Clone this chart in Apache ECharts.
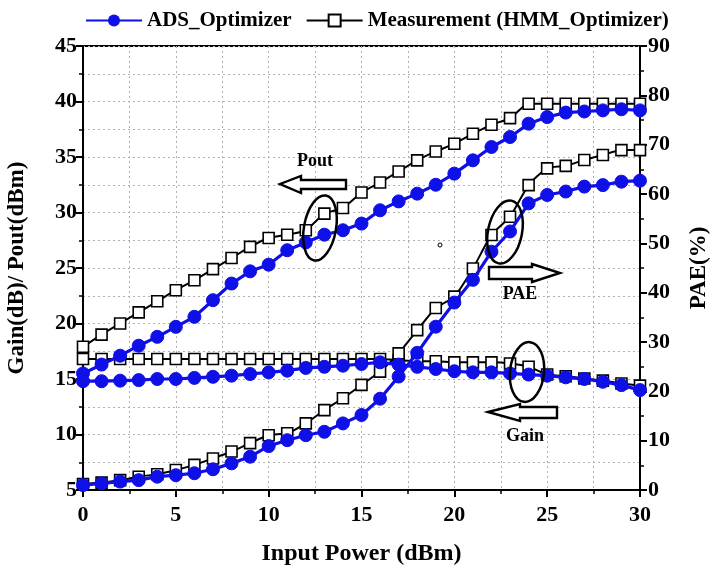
<!DOCTYPE html>
<html>
<head>
<meta charset="utf-8">
<script src="https://cdn.jsdelivr.net/npm/echarts@6/dist/echarts.min.js"></script>
<style>html,body{margin:0;padding:0;background:#fff;}#c{width:712px;height:573px;}</style>
</head>
<body>
<div id="c"></div>
<script>
const inputPower = [0,1,2,3,4,5,6,7,8,9,10,11,12,13,14,15,16,17,18,19,20,21,22,23,24,25,26,27,28,29,30];
const poutADS  = [15.5,16.3,17.1,18.0,18.8,19.7,20.6,22.1,23.6,24.7,25.3,26.6,27.3,28.0,28.4,29.0,30.2,31.0,31.7,32.5,33.5,34.7,35.9,36.8,38.0,38.6,39.0,39.1,39.2,39.3,39.2];
const poutMeas = [17.9,19.0,20.0,21.0,22.0,23.0,23.9,24.9,25.9,26.9,27.7,28.0,28.4,29.9,30.4,31.8,32.7,33.7,34.7,35.5,36.2,37.1,37.9,38.5,39.8,39.8,39.8,39.8,39.8,39.8,39.8];
const gainADS  = [14.8,14.8,14.85,14.9,15.0,15.0,15.1,15.2,15.3,15.45,15.6,15.75,16.0,16.1,16.2,16.35,16.5,16.3,16.1,15.9,15.7,15.6,15.6,15.5,15.4,15.3,15.15,15.0,14.75,14.45,14.0];
const gainMeas = [16.8,16.8,16.8,16.8,16.8,16.8,16.8,16.8,16.8,16.8,16.8,16.8,16.8,16.8,16.8,16.8,16.8,16.7,16.6,16.6,16.5,16.5,16.5,16.4,16.1,15.4,15.25,15.05,14.85,14.6,14.4];
const paeADS   = [1.0,1.35,1.7,2.0,2.7,3.0,3.4,4.2,5.4,6.75,8.9,10.1,11.1,11.8,13.5,15.2,18.5,23.0,27.8,33.1,38.0,42.6,48.3,52.4,58.1,59.8,60.5,61.5,61.8,62.5,62.7];
const paeMeas  = [1.2,1.5,2.0,2.7,3.2,4.05,5.1,6.4,7.8,9.5,11.1,11.5,13.5,16.2,18.6,21.3,24.0,27.7,32.4,36.9,39.2,44.9,51.7,55.4,61.8,65.2,65.7,66.9,67.9,68.9,68.9];
const leftTicks = {min:5, max:45, interval:5};
const rightTicks = {min:0, max:90, interval:10};
const xTicks = {min:0, max:30, interval:5};

const FONT = "'Liberation Serif', 'Times New Roman', serif";
const BLUE = '#0f0fe8';
const pair = arr => arr.map((v,i)=>[inputPower[i], v]);

function adsSeries(data, yIdx){
  return {name:'ADS_Optimizer', type:'line', yAxisIndex:yIdx, data:pair(data), z:4,
    symbol:'circle', symbolSize:13, showSymbol:true,
    lineStyle:{color:BLUE, width:3.2}, itemStyle:{color:BLUE, borderColor:BLUE}};
}
function measSeries(data, yIdx){
  return {name:'Measurement (HMM_Optimizer)', type:'line', yAxisIndex:yIdx, data:pair(data), z:3,
    symbol:'rect', symbolSize:11, showSymbol:true, smooth:0.2,
    lineStyle:{color:'#000', width:2}, itemStyle:{color:'#fff', borderColor:'#000', borderWidth:1.6}};
}

const chart = echarts.init(document.getElementById('c'), null, {renderer:'canvas'});
const axisLabelStyle = {fontFamily:FONT, fontWeight:'bold', fontSize:22, color:'#000'};
const dotted = {show:true, lineStyle:{color:'#b0b0b0', type:[2,3], width:1}};

const option = {
  backgroundColor:'#fff',
  animation:false,
  legend:{
    top:5, left:80, itemWidth:56, itemHeight:15, itemGap:14,
    textStyle:{fontFamily:FONT, fontWeight:'bold', fontSize:21, color:'#000'},
    data:['ADS_Optimizer','Measurement (HMM_Optimizer)']
  },
  grid:{left:83, right:72, top:46, bottom:83, containLabel:false, outerBoundsMode:'none',
    show:true, borderColor:'#000', borderWidth:2, backgroundColor:'transparent'},
  xAxis:{
    type:'value', min:xTicks.min, max:xTicks.max, interval:xTicks.interval,
    name:'Input Power (dBm)', nameLocation:'middle', nameGap:52,
    nameTextStyle:{fontFamily:FONT, fontWeight:'bold', fontSize:24, color:'#000'},
    axisLine:{show:true, lineStyle:{color:'#000', width:2}},
    axisTick:{show:true, length:7, lineStyle:{color:'#000', width:2}},
    minorTick:{show:true, splitNumber:2, length:4, lineStyle:{color:'#000', width:1.5}},
    axisLabel:Object.assign({margin:14}, axisLabelStyle),
    splitLine:dotted, minorSplitLine:dotted
  },
  yAxis:[{
    type:'value', min:leftTicks.min, max:leftTicks.max, interval:leftTicks.interval, position:'left',
    name:'Gain(dB)/ Pout(dBm)', nameLocation:'middle', nameGap:54, nameRotate:90,
    nameTextStyle:{fontFamily:FONT, fontWeight:'bold', fontSize:23, color:'#000'},
    axisLine:{show:true, lineStyle:{color:'#000', width:2}},
    axisTick:{show:true, length:7, lineStyle:{color:'#000', width:2}},
    minorTick:{show:true, splitNumber:2, length:4, lineStyle:{color:'#000', width:1.5}},
    axisLabel:Object.assign({margin:6}, axisLabelStyle),
    splitLine:dotted, minorSplitLine:dotted
  },{
    type:'value', min:rightTicks.min, max:rightTicks.max, interval:rightTicks.interval, position:'right',
    name:'PAE(%)', nameLocation:'middle', nameGap:48, nameRotate:90,
    nameTextStyle:{fontFamily:FONT, fontWeight:'bold', fontSize:23, color:'#000'},
    axisLine:{show:true, lineStyle:{color:'#000', width:2}},
    axisTick:{show:true, length:7, lineStyle:{color:'#000', width:2}},
    minorTick:{show:true, splitNumber:2, length:4, lineStyle:{color:'#000', width:1.5}},
    axisLabel:Object.assign({margin:8}, axisLabelStyle),
    splitLine:{show:false}
  }],
  series:[
    measSeries(poutMeas,0), measSeries(gainMeas,0), measSeries(paeMeas,1),
    adsSeries(poutADS,0), adsSeries(gainADS,0), adsSeries(paeADS,1)
  ]
};
chart.setOption(option);

// annotations (ellipses, hollow arrows, labels)
const annStroke = {stroke:'#000', lineWidth:2.5, fill:'none'};
const arrowStyle = {stroke:'#000', lineWidth:2.4, fill:'#fff'};
const txt = (x,y,t)=>({type:'text', x:x, y:y, z:10, style:{text:t, x:0, y:0, align:'center', verticalAlign:'middle', font:"bold 18px "+FONT, fill:'#000'}});
const ell = (x,y,rx,ry,rot)=>({type:'ellipse', x:x, y:y, rotation:rot, z:10, shape:{cx:0, cy:0, rx:rx, ry:ry}, style:annStroke});
chart.setOption({graphic:[
  txt(315,161,'Pout'),
  {type:'polygon', z:10, shape:{points:[[280,184],[301,176],[301,180],[346,180],[346,189],[301,189],[301,193]]}, style:arrowStyle},
  ell(320,228,16,33,-0.18),
  ell(505,232,17,32,-0.2),
  {type:'polygon', z:10, shape:{points:[[489,267],[532,267],[532,264],[560,273],[532,282],[532,279],[489,279]]}, style:arrowStyle},
  txt(520,294,'PAE'),
  ell(527,372,17,30,-0.1),
  {type:'polygon', z:10, shape:{points:[[488,412],[520,404],[520,407],[557,407],[557,418],[520,418],[520,421]]}, style:arrowStyle},
  txt(525,436,'Gain'),
  {type:'circle', z:10, shape:{cx:440, cy:245, r:2}, style:{stroke:'#000', lineWidth:1, fill:'none'}}
]});
</script>
</body>
</html>
